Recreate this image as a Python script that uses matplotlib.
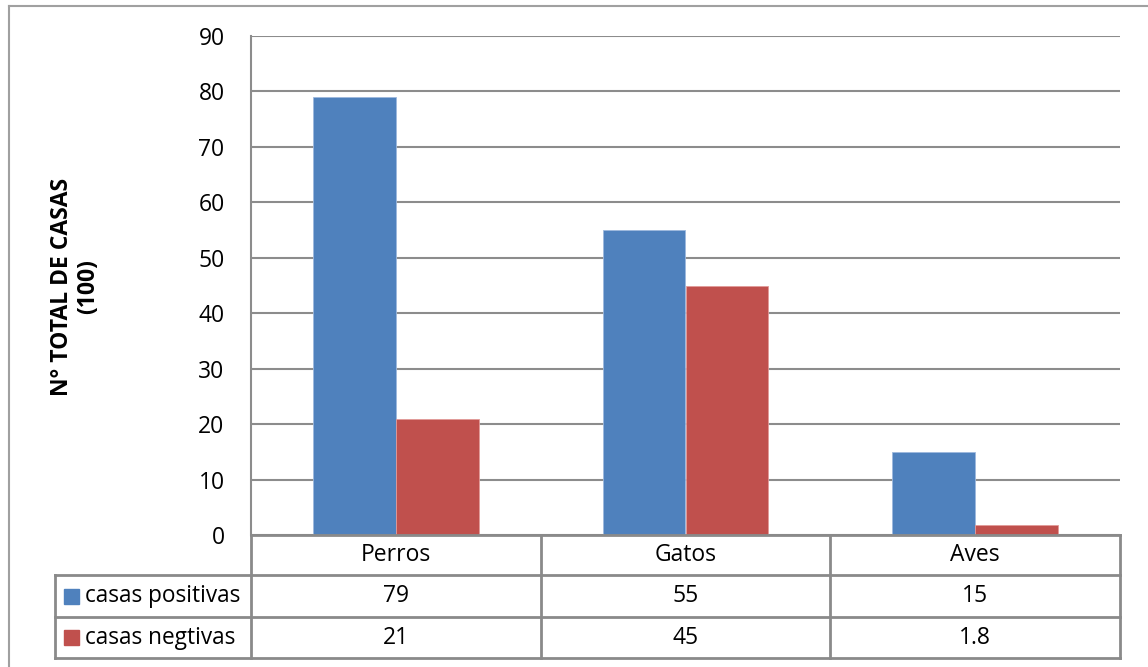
import matplotlib
matplotlib.use("Agg")
import matplotlib.pyplot as plt
from matplotlib.lines import Line2D
from matplotlib.patches import Rectangle
import numpy as np

categories = ["Perros", "Gatos", "Aves"]
series_names = ["casas positivas", "casas negtivas"]
positivas = [79, 55, 15]
negativas = [21, 45, 1.8]
value_labels = [["79", "55", "15"], ["21", "45", "1.8"]]
yticks = [0, 10, 20, 30, 40, 50, 60, 70, 80, 90]
ylabel = "N° TOTAL DE CASAS\n(100)"

colors = ["#4F81BD", "#C0504D"]
grid_c = "#8C8C8C"
W, H = 1148, 667
plt.rcParams['font.family'] = ['Open Sans', 'DejaVu Sans']

fig = plt.figure(figsize=(W / 100, H / 100), dpi=100)

def fx(x):
    return x / W

def fy(y):
    return 1 - y / H

# plot area in pixels
L, R, T, B = 251, 1120, 36, 535
ax = fig.add_axes([fx(L), fy(B), fx(R) - fx(L), fy(T) - fy(B)])
ax.set_xlim(0, 3)
ax.set_ylim(0, 90)
bw = 0.286
x = np.arange(3) + 0.5
ax.bar(x - bw / 2, positivas, bw, color=colors[0], edgecolor="#9DB9DE", linewidth=0.6, zorder=3)
ax.bar(x + bw / 2, negativas, bw, color=colors[1], edgecolor="#E29A98", linewidth=0.6, zorder=3)
ax.set_yticks(yticks)
ax.set_yticklabels([str(v) for v in yticks], fontsize=16.5)
ax.tick_params(axis='y', length=0, pad=19)
ax.set_xticks([])
for v in yticks:
    ax.axhline(v, color=grid_c, linewidth=1.5, zorder=1)
for s in ["top", "right", "bottom"]:
    ax.spines[s].set_visible(False)
ax.spines["left"].set_color(grid_c)
ax.spines["left"].set_linewidth(1.5)

# outer border
fig.add_artist(Line2D([fx(9), fx(9)], [fy(6), fy(667)], color="#A0A0A0", lw=1.5))
fig.add_artist(Line2D([fx(9), fx(1148)], [fy(6), fy(6)], color="#A0A0A0", lw=1.5))

# y label
fig.text(fx(75), fy(287), ylabel, rotation=90, ha="center", va="center",
         fontsize=16.5, fontweight="bold", linespacing=1.15)

# data table
tc = "#8A8A8A"
rows_y = [535, 575, 617, 658]
col_x = [L + i * (R - L) / 3 for i in range(4)]
leg_left = 55
lw = 2
for cx in col_x:
    fig.add_artist(Line2D([fx(cx), fx(cx)], [fy(rows_y[0]), fy(rows_y[3])], color=tc, lw=lw))
fig.add_artist(Line2D([fx(leg_left), fx(leg_left)], [fy(rows_y[1]), fy(rows_y[3])], color=tc, lw=lw))
fig.add_artist(Line2D([fx(L), fx(R)], [fy(rows_y[0]), fy(rows_y[0])], color=tc, lw=lw))
for ry in rows_y[1:]:
    fig.add_artist(Line2D([fx(leg_left), fx(R)], [fy(ry), fy(ry)], color=tc, lw=lw))

for i, c in enumerate(categories):
    cx = (col_x[i] + col_x[i + 1]) / 2
    fig.text(fx(cx), fy((rows_y[0] + rows_y[1]) / 2), c, ha="center", va="center", fontsize=16.5)
for r in range(2):
    ym = (rows_y[r + 1] + rows_y[r + 2]) / 2
    fig.add_artist(Rectangle((fx(64), fy(ym + 7.5)), fx(15), 15 / H, color=colors[r]))
    fig.text(fx(85), fy(ym), series_names[r], ha="left", va="center", fontsize=16.3)
    for i in range(3):
        cx = (col_x[i] + col_x[i + 1]) / 2
        fig.text(fx(cx), fy(ym), value_labels[r][i], ha="center", va="center", fontsize=16.5)

fig.savefig("out.png", dpi=100)
